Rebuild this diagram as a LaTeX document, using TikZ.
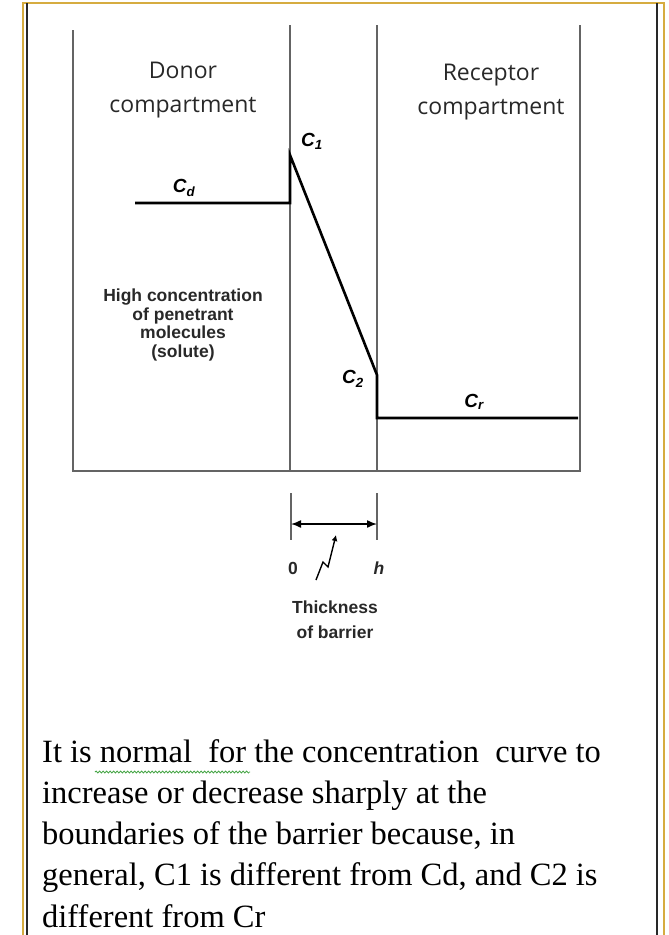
\documentclass[tikz,border=0pt]{standalone}
\usepackage{fontspec}
\setmainfont{Liberation Serif}
\setsansfont{Open Sans}
\newfontfamily\figfont{Liberation Sans}
\usetikzlibrary{arrows.meta,decorations.pathmorphing}
\definecolor{framegold}{RGB}{214,172,64}
\definecolor{wallgray}{RGB}{100,100,100}
\definecolor{inkdark}{RGB}{40,40,40}
\definecolor{spellgreen}{RGB}{70,165,70}

\begin{document}
\begin{tikzpicture}[
  x=1pt, y=-1pt,
  wall/.style={draw=wallgray, line width=1.8pt},
  profile/.style={draw=black, line width=2.6pt, line join=miter},
  compname/.style={font=\sffamily\fontsize{23}{34}\selectfont, align=center, text=inkdark},
  conc/.style={font=\figfont\bfseries\itshape\fontsize{19}{19}\selectfont, inner sep=1pt},
  note/.style={font=\figfont\bfseries\fontsize{17.5}{18.5}\selectfont, align=center, text=inkdark},
  body/.style={font=\fontsize{32.5}{41.3}\selectfont, align=left, anchor=north west, inner sep=0pt},
]
\useasboundingbox (0,0) rectangle (669,935);

% -------------------------------------------------------------------------
% Page frame
% -------------------------------------------------------------------------
\draw[framegold, line width=1.4pt] (23,935) -- (23,3) -- (664,3) -- (664,935);
\draw[inkdark, line width=2pt] (27,3) -- (27,935);
\draw[inkdark, line width=2pt] (657,3) -- (657,935);

% -------------------------------------------------------------------------
% Compartments and barrier
% -------------------------------------------------------------------------
\draw[wall] (73,30) -- (73,471) -- (580,471) -- (580,25);
\draw[wall] (290,25) -- (290,471);
\draw[wall] (377,25) -- (377,471);

\node[compname] (donor) at (183,90) {Donor\\compartment};
\node[compname] (receptor) at (491,92) {Receptor\\compartment};
\node[note] (solute) at (183,325)
  {High concentration\\of penetrant\\molecules\\(solute)};

% -------------------------------------------------------------------------
% Concentration profile
% -------------------------------------------------------------------------
\coordinate (cdstart) at (135,203);
\coordinate (cdend) at (290,203);
\coordinate (cone) at (290,155);
\coordinate (ctwo) at (377,375);
\coordinate (crstart) at (377,418);
\coordinate (crend) at (578,418);
\draw[profile] (cdstart) -- (cdend) -- (cone) -- (ctwo) -- (crstart) -- (crend);

\node[conc] (cdlabel) at (184,188) {C\textsubscript{d}};
\node[conc] (conelabel) at (312,141) {C\textsubscript{1}};
\node[conc] (ctwolabel) at (353,379) {C\textsubscript{2}};
\node[conc] (crlabel) at (474,402) {C\textsubscript{r}};

% -------------------------------------------------------------------------
% Thickness of the barrier
% -------------------------------------------------------------------------
\coordinate (zerotop) at (291,493);
\coordinate (zerobot) at (291,540);
\coordinate (htop) at (377,493);
\coordinate (hbot) at (377,540);
\coordinate (zeromid) at (291,524);
\coordinate (hmid) at (377,524);
\draw[wall, line width=1.6pt] (zerotop) -- (zerobot);
\draw[wall, line width=1.6pt] (htop) -- (hbot);
\draw[{Latex[length=10pt,width=8pt]}-{Latex[length=10pt,width=8pt]}, line width=1.5pt]
  (zeromid) -- (hmid);
\draw[-{Latex[length=6pt,width=6pt]}, line width=1.4pt]
  (316,580) -- (323,562) -- (328,567) -- (336,535);

\node[note] (zero) at (293,568) {0};
\node[note, font=\figfont\bfseries\itshape\fontsize{17.5}{18.5}\selectfont] (hlabel) at (379,568) {h};
\node[note, font=\figfont\bfseries\fontsize{17.5}{25}\selectfont] (thick) at (335,620) {Thickness\\of barrier};

% -------------------------------------------------------------------------
% Remark below the figure
% -------------------------------------------------------------------------
\node[body] (remark) at (42,739)
  {It is normal\ \ for the concentration\ \ curve to\\
   increase or decrease sharply at the\\
   boundaries of the barrier because, in\\
   general, C1 is different from Cd, and C2 is\\
   different from Cr};
\draw[spellgreen, line width=0.8pt, decorate,
      decoration={snake, amplitude=1pt, segment length=3.5pt}]
  (95,772) -- (250,772);

\end{tikzpicture}
\end{document}
